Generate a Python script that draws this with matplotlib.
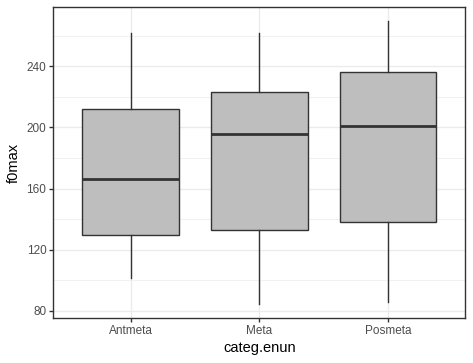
import numpy as np
import matplotlib.pyplot as plt

# ─── Data ────────────────────────────────────────────────────────────────────

categories = ['Antmeta', 'Meta', 'Posmeta']
whisk_lo = [101.4, 84.6, 85.9]
q1       = [129.7, 133.1, 138.3]
median   = [166.0, 195.9, 201.1]
q3       = [212.2, 223.3, 236.4]
whisk_hi = [261.9, 261.9, 269.3]

# ─── Style ───────────────────────────────────────────────────────────────────

plt.rcParams['font.family'] = ['Liberation Sans', 'DejaVu Sans']
GRID = '#EBEBEB'
DARK = '#333333'
FILL = '#BEBEBE'

fig = plt.figure(figsize=(4.73, 3.63), dpi=100)
ax = fig.add_axes([0.1127, 0.124, 0.8710, 0.856])

stats = [
    dict(med=m, q1=a, q3=b, whislo=lo, whishi=hi, fliers=[], label=c)
    for c, lo, a, m, b, hi in zip(categories, whisk_lo, q1, median, q3, whisk_hi)
]
pos = np.arange(1, len(categories) + 1)
ax.bxp(stats, positions=pos, widths=0.75, patch_artist=True, showcaps=False,
       boxprops=dict(facecolor=FILL, edgecolor=DARK, linewidth=1.0),
       whiskerprops=dict(color=DARK, linewidth=1.0),
       medianprops=dict(color=DARK, linewidth=2.0, solid_capstyle='butt'),
       zorder=3)

# limits with ggplot-style 5% expansion
lo, hi = min(whisk_lo), max(whisk_hi)
pad = (hi - lo) * 0.05
ax.set_ylim(lo - pad, hi + pad)
ax.set_xlim(0.4, len(categories) + 0.6)

ax.set_yticks([80, 120, 160, 200, 240])
ax.set_yticks([100, 140, 180, 220, 260], minor=True)
ax.set_xticks(pos)
ax.set_xticklabels(categories)

ax.grid(True, which='major', color=GRID, linewidth=1.0, zorder=0)
ax.grid(True, which='minor', axis='y', color=GRID, linewidth=0.5, zorder=0)
ax.set_axisbelow(True)

ax.tick_params(which='major', length=3, width=1.0, color=DARK,
               labelsize=8.5, labelcolor='#4D4D4D', pad=2)
ax.tick_params(which='minor', length=0)

for s in ax.spines.values():
    s.set_color(DARK)
    s.set_linewidth(1.0)

ax.set_xlabel('categ.enun', fontsize=10.5, labelpad=3)
ax.set_ylabel('f0max', fontsize=10.5, labelpad=4)

fig.savefig('out.png', dpi=100)
